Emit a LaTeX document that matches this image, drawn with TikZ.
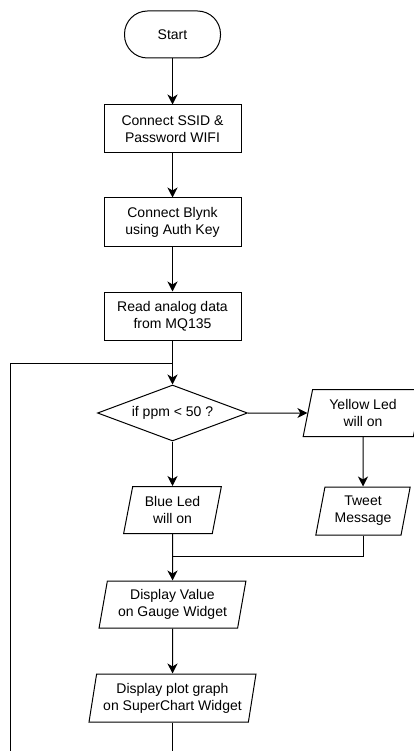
\documentclass[tikz,border=0pt]{standalone}
\usepackage{fontspec}
\setmainfont{Liberation Sans}
\usetikzlibrary{shapes.geometric,arrows.meta}
\begin{document}
\begin{tikzpicture}[x=1pt,y=-1pt,
  every node/.style={font=\fontsize{14}{17}\selectfont, align=center, text=black},
  flow/.style={line width=1pt, draw=black},
  arr/.style={flow, -{Stealth[length=10pt,width=10pt,inset=3pt]}},
  proc/.style={draw, line width=1pt, rectangle, minimum width=137pt, minimum height=48pt, inner sep=0pt},
  term/.style={draw, line width=1pt, rectangle, rounded corners=23pt, minimum width=96pt, minimum height=47pt},
  cond/.style={draw, line width=1pt, diamond, aspect=2.68, minimum width=150pt, minimum height=56pt, inner sep=0pt},
  io/.style={draw, line width=1pt, trapezium, trapezium left angle=77, trapezium right angle=103,
    trapezium stretches=true, inner sep=0pt, minimum height=47pt}
]
\useasboundingbox (0,0) rectangle (414,751);
\clip (0,0) rectangle (414,751);

% main column
\node[term] (start) at (172.5,34.5) {Start};
\node[proc] (b1) at (172.5,129) {Connect SSID \&\\Password WIFI};
\node[proc] (b2) at (172.5,222) {Connect Blynk\\using Auth Key};
\node[proc] (b3) at (172.5,316) {Read analog data\\from MQ135};
\node[cond] (dec) at (172.5,413) {if ppm < 50 ?};
\node[io, minimum width=98pt] (blue) at (172.5,510) {Blue Led\\will on};
\node[io, minimum width=147pt] (dv) at (172.5,604.5) {Display Value\\on Gauge Widget};
\node[io, minimum width=167pt, minimum height=48pt] (dp) at (172.5,698) {Display plot graph\\on SuperChart Widget};

% right branch
\node[io, minimum width=120pt] (yel) at (363,413) {Yellow Led\\will on};
\node[io, minimum width=95pt, minimum height=48pt] (tweet) at (363,511) {Tweet\\Message};

% connectors
\draw[arr] (start) -- (b1);
\draw[arr] (b1) -- (b2);
\draw[arr] (b2) -- (b3);
\draw[arr] (b3) -- (dec);
\coordinate (loopin) at (172.5,363);
\coordinate (loopend) at (10,751);
\draw[flow] (loopend) |- (loopin);
\draw[arr] (dec) -- (yel);
\draw[arr] (dec) -- (blue);
\draw[arr] (yel) -- (tweet);
\coordinate (merge) at (172.5,556);
\draw[flow] (tweet) |- (merge);
\draw[arr] (blue) -- (dv);
\draw[arr] (dv) -- (dp);
\coordinate (exit) at (172.5,751);
\draw[flow] (dp) -- (exit);
\end{tikzpicture}
\end{document}
